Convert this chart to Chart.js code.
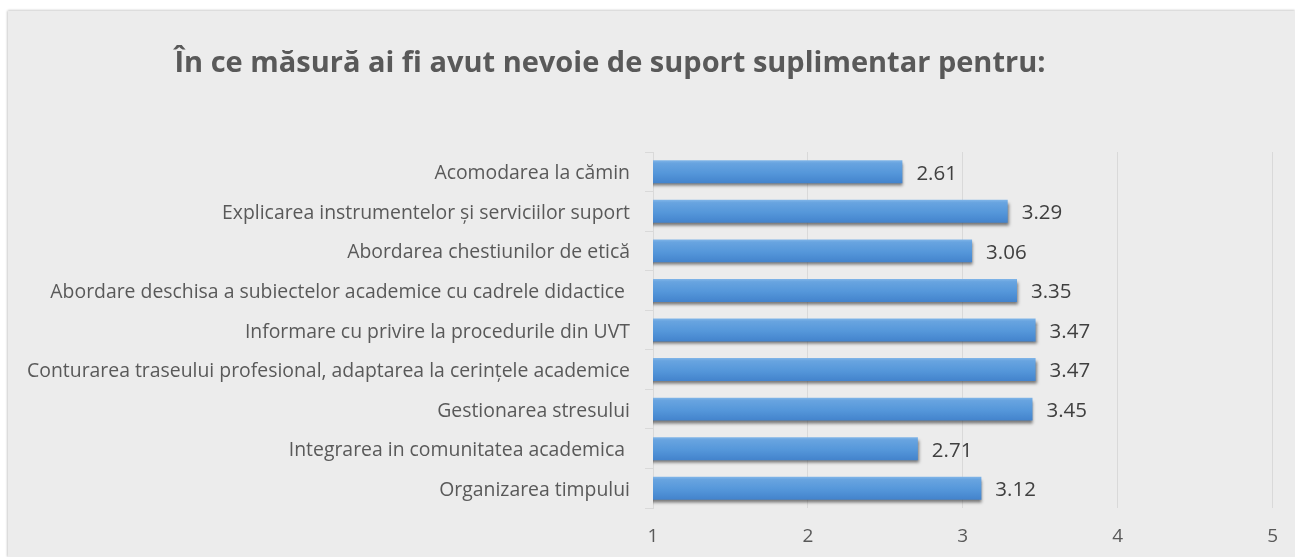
<!DOCTYPE html>
<html lang="ro">
  <head>
    <meta charset="UTF-8" />
    <title>În ce măsură ai fi avut nevoie de suport suplimentar pentru:</title>
    <style>
      html, body { margin: 0; padding: 0; background: #fff; }
      #panel {
        position: absolute;
        left: 8px;
        top: 11px;
        width: 1287px;
        height: 546px;
        background: #ececec;
        box-shadow: 0 -1px 2px #d4d4d4, -1px 0 2px #d4d4d4;
      }
    </style>
  </head>
  <body>
    <div id="panel">
      <canvas id="myChart" width="1287" height="546"></canvas>
    </div>

    <script src="https://cdn.jsdelivr.net/npm/chart.js"></script>
    <script>
      const chartTitle = "În ce măsură ai fi avut nevoie de suport suplimentar pentru:";
      const categories = [
        "Acomodarea la cămin",
        "Explicarea instrumentelor și serviciilor suport",
        "Abordarea chestiunilor de etică",
        "Abordare deschisa a subiectelor academice cu cadrele didactice ",
        "Informare cu privire la procedurile din UVT",
        "Conturarea traseului profesional, adaptarea la cerințele academice",
        "Gestionarea stresului",
        "Integrarea in comunitatea academica ",
        "Organizarea timpului",
      ];
      const scores = [2.61, 3.29, 3.06, 3.35, 3.47, 3.47, 3.45, 2.71, 3.12];
      const xMin = 1;
      const xMax = 5;

      const FONT = "'Open Sans', 'Noto Sans', sans-serif";
      const TEXT = "#595959";
      const GRID = "#d9d9d9";

      // title drawn by hand, it sits a bit left of the middle in the original
      const titlePlugin = {
        id: "titleText",
        afterDraw(chart) {
          const ctx = chart.ctx;
          ctx.save();
          ctx.font = "bold 29px " + FONT;
          ctx.fillStyle = TEXT;
          ctx.textAlign = "center";
          ctx.textBaseline = "middle";
          ctx.fillText(chartTitle, 602, 53);
          ctx.restore();
        },
      };

      // gradient + drop shadow for the bars
      const barLook = {
        id: "barLook",
        beforeDatasetDraw(chart, args) {
          const ctx = chart.ctx;
          args.meta.data.forEach((bar) => {
            const top = bar.y - bar.height / 2;
            const g = ctx.createLinearGradient(0, top, 0, top + bar.height);
            g.addColorStop(0, "#80b5e8");
            g.addColorStop(0.12, "#68a4e0");
            g.addColorStop(0.55, "#5597da");
            g.addColorStop(1, "#4383cc");
            bar.options.backgroundColor = g;
          });
          ctx.save();
          ctx.shadowColor = "rgba(40,40,40,0.6)";
          ctx.shadowBlur = 3;
          ctx.shadowOffsetX = 1;
          ctx.shadowOffsetY = 3;
        },
        afterDatasetDraw(chart) {
          chart.ctx.restore();
        },
      };

      // value labels at the end of each bar
      const valueLabels = {
        id: "valueLabels",
        afterDatasetsDraw(chart) {
          const ctx = chart.ctx;
          const meta = chart.getDatasetMeta(0);
          ctx.save();
          ctx.font = "20.5px " + FONT;
          ctx.fillStyle = "#404040";
          ctx.textAlign = "left";
          ctx.textBaseline = "middle";
          meta.data.forEach((bar, i) => {
            ctx.fillText(scores[i].toFixed(2), bar.x + 14, bar.y + 2);
          });
          ctx.restore();
        },
      };

      const ctx = document.getElementById("myChart").getContext("2d");
      new Chart(ctx, {
        type: "bar",
        data: {
          labels: categories,
          datasets: [
            {
              data: scores,
              // a function keeps each bar's options separate, so the gradient can be set per bar
              backgroundColor: () => "#5b9bd5",
              borderWidth: 0,
              barPercentage: 0.58,
              categoryPercentage: 1,
            },
          ],
        },
        options: {
          indexAxis: "y",
          responsive: false,
          animation: false,
          layout: { padding: { top: 141, right: 22, bottom: 0, left: 0 } },
          plugins: {
            legend: { display: false },
            tooltip: { enabled: false },
          },
          scales: {
            x: {
              min: xMin,
              max: xMax,
              ticks: {
                stepSize: 1,
                color: TEXT,
                font: { family: FONT, size: 19 },
                padding: 17,
              },
              grid: { color: GRID, drawTicks: false },
              border: { display: false },
              afterFit(scale) {
                scale.height = 49;
              },
            },
            y: {
              ticks: {
                color: TEXT,
                font: { family: FONT, size: 19.4 },
                padding: 15,
                labelOffset: 2,
                autoSkip: false,
              },
              grid: {
                drawOnChartArea: false,
                color: GRID,
                tickLength: 8,
              },
              border: { color: GRID },
              afterFit(scale) {
                scale.width = 645;
              },
            },
          },
        },
        plugins: [barLook, valueLabels, titlePlugin],
      });
    </script>
  </body>
</html>
